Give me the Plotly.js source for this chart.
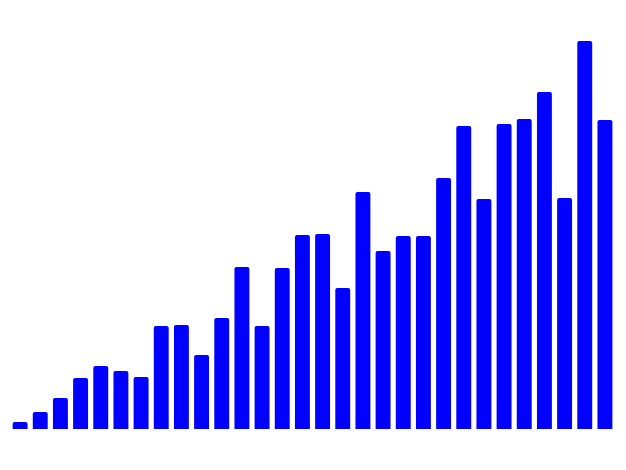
<!DOCTYPE html>
<html>
<head>
<meta charset="utf-8">
<script src="https://cdn.plot.ly/plotly-3.0.1.min.js"></script>
<style>
  html, body { margin: 0; padding: 0; background: #fff; }
  #myDiv { width: 626px; height: 470px; }
</style>
</head>
<body>
<div id="myDiv"></div>
<script>
// one bar per index, heights
var categories = [];
for (var i = 0; i < 30; i++) categories.push(i);

var values = [7, 17, 31, 51, 63, 58, 52, 103, 104, 74,
              111, 162, 103, 161, 194, 195, 141, 237, 178, 193,
              193, 251, 303, 230, 305, 310, 337, 231, 388, 309];

var data = [{
    x: categories,
    y: values,
    type: 'bar',
    marker: { color: '#0000ff' },
    hoverinfo: 'none'
}];

var layout = {
    width: 626,
    height: 470,
    margin: { l: 10, r: 11, t: 21, b: 41 },
    bargap: 0.26,
    barcornerradius: 2,
    paper_bgcolor: 'white',
    plot_bgcolor: 'white',
    showlegend: false,
    xaxis: {
        range: [-0.5, 29.5],
        visible: false,
        showgrid: false,
        zeroline: false
    },
    yaxis: {
        range: [0, 408],
        visible: false,
        showgrid: false,
        zeroline: false
    }
};

Plotly.newPlot('myDiv', data, layout, { staticPlot: true });
</script>
</body>
</html>
